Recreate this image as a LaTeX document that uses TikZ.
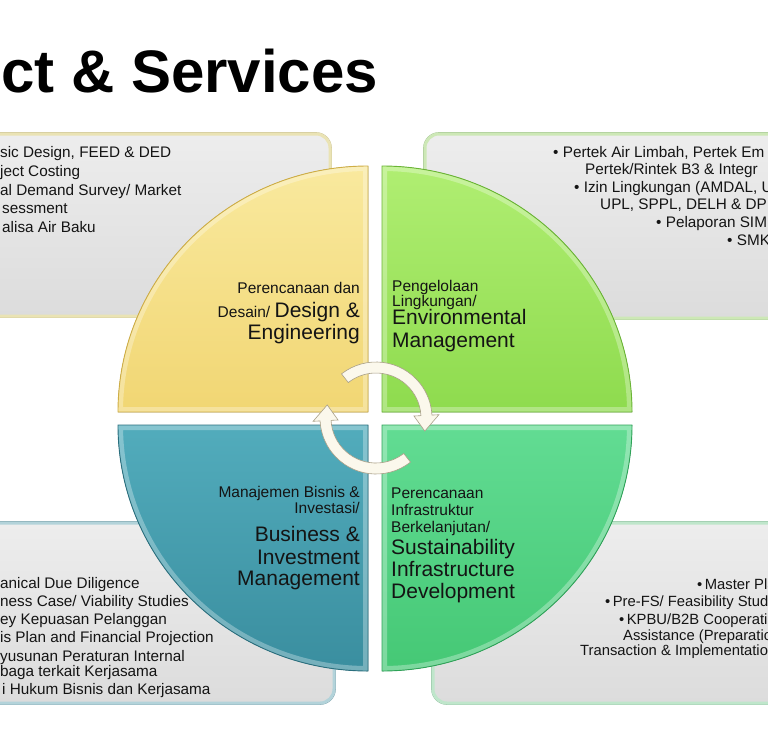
\documentclass[tikz,border=0pt]{standalone}
\usepackage{fontspec}
\setmainfont{Liberation Sans}
\definecolor{txt}{HTML}{141414}
\definecolor{boxtop}{HTML}{EDEDED}
\definecolor{boxbot}{HTML}{DCDCDC}
\definecolor{tlb}{HTML}{EAE3B4}
\definecolor{tlo}{HTML}{CFC79A}
\definecolor{trb}{HTML}{CDE8B6}
\definecolor{tro}{HTML}{A9C998}
\definecolor{blb}{HTML}{B3D3DA}
\definecolor{blo}{HTML}{86AAB3}
\definecolor{brb}{HTML}{BFE6CB}
\definecolor{bro}{HTML}{98C5A6}
\definecolor{yelA}{HTML}{F9E99E}
\definecolor{yelB}{HTML}{F1D673}
\definecolor{yelE}{HTML}{CFAE45}
\definecolor{limA}{HTML}{B0EE72}
\definecolor{limB}{HTML}{8EDB4E}
\definecolor{limE}{HTML}{6AB534}
\definecolor{tealA}{HTML}{52ACBC}
\definecolor{tealB}{HTML}{3A8E9F}
\definecolor{tealE}{HTML}{2A6F7E}
\definecolor{grnA}{HTML}{62DC93}
\definecolor{grnB}{HTML}{45C875}
\definecolor{grnE}{HTML}{2EA358}
\definecolor{creamA}{HTML}{FBF8EC}
\definecolor{creamE}{HTML}{A9A088}
\newcommand\bxfont{\fontsize{15.3}{18}\selectfont}
\newcommand\brfont{\fontsize{14.8}{18}\selectfont}
\newcommand\qsmall{\fontsize{15.5}{18}\selectfont}
\newcommand\qbig{\fontsize{21}{24}\selectfont}
\tikzset{
  gbox/.style={rounded corners=14pt, line width=3pt, top color=boxtop, bottom color=boxbot},
  boxedge/.style={rounded corners=15.5pt, line width=0.7pt},
  bxt/.style={inner sep=0pt, font=\bxfont, text=txt},
  brt/.style={inner sep=0pt, font=\brfont, text=txt},
  ql/.style={inner sep=0pt, font=\qsmall, text=txt},
  qb/.style={inner sep=0pt, font=\qbig, text=txt},
  rim/.style={line width=10pt, white, opacity=0.3},
  cyc/.style={fill=creamA, draw=creamE, line width=0.6pt},
}
\begin{document}
\begin{tikzpicture}[x=1pt,y=1pt]
\useasboundingbox (0,0) rectangle (768,-750);
\clip (0,0) rectangle (768,-750);
\fill[white] (0,0) rectangle (768,-750);

% title
\node[anchor=base west, inner sep=0pt, font=\fontsize{60}{60}\selectfont\bfseries, text=black] (title) at (1,-92) {ct \& Services};

% grey boxes
\draw[boxedge, draw=tlo] (-31.5,-132.5) rectangle (331.5,-317.5);
\draw[gbox, draw=tlb] (-30,-134) rectangle (330,-316);
\draw[boxedge, draw=tro] (423.5,-132.5) rectangle (800,-319.5);
\draw[gbox, draw=trb] (425,-134) rectangle (800,-318);
\draw[boxedge, draw=blo] (-31.5,-521.5) rectangle (335.5,-704.5);
\draw[gbox, draw=blb] (-30,-523) rectangle (334,-703);
\draw[boxedge, draw=bro] (431.5,-521.5) rectangle (800,-704.5);
\draw[gbox, draw=brb] (433,-523) rectangle (800,-703);

% box texts
\node[bxt, anchor=base west] (tl1) at (0,-157) {sic Design, FEED \& DED};
\node[bxt, anchor=base west] (tl2) at (0,-176) {ject Costing};
\node[bxt, anchor=base west] (tl3) at (0,-195) {al Demand Survey/ Market};
\node[bxt, anchor=base west] (tl4) at (2,-213) {sessment};
\node[bxt, anchor=base west] (tl5) at (2,-232) {alisa Air Baku};

\node[bxt, anchor=base west] (tr1) at (553,-157) {• Pertek Air Limbah, Pertek Em};
\node[bxt, anchor=base west] (tr2) at (585,-174) {Pertek/Rintek B3 \& Integr};
\node[bxt, anchor=base west] (tr3) at (574,-192) {• Izin Lingkungan (AMDAL, U};
\node[bxt, anchor=base west] (tr4) at (600,-209) {UPL, SPPL, DELH \& DPL};
\node[bxt, anchor=base west] (tr5) at (656,-227) {• Pelaporan SIMP};
\node[bxt, anchor=base west] (tr6) at (727,-245) {• SMK};

\node[bxt, anchor=base west] (bl1) at (0,-588) {anical Due Diligence};
\node[bxt, anchor=base west] (bl2) at (0,-606) {ness Case/ Viability Studies};
\node[bxt, anchor=base west] (bl3) at (0,-624) {ey Kepuasan Pelanggan};
\node[bxt, anchor=base west] (bl4) at (0,-642) {is Plan and Financial Projection};
\node[bxt, anchor=base west] (bl5) at (0,-661) {yusunan Peraturan Internal};
\node[bxt, anchor=base west] (bl6) at (0,-676) {baga terkait Kerjasama};
\node[bxt, anchor=base west] (bl7) at (2,-694) {i Hukum Bisnis dan Kerjasama};

\node[brt, anchor=base west] (br1) at (697,-589) {•\,Master Pla};
\node[brt, anchor=base west] (br2) at (605,-606) {•\,Pre-FS/ Feasibility Studi};
\node[brt, anchor=base west] (br3) at (619,-624) {•\,KPBU/B2B Cooperatio};
\node[brt, anchor=base west] (br4) at (623,-640) {Assistance (Preparatio};
\node[brt, anchor=base west] (br5) at (580,-655) {Transaction \& Implementatio};

% quadrants
\foreach \cx/\cy/\sa/\ea/\ca/\cb/\ce in {368/-412/180/90/yelA/yelB/yelE, 382/-412/90/0/limA/limB/limE, 368/-425/270/180/tealA/tealB/tealE, 382/-425/0/-90/grnA/grnB/grnE}{
  \fill[top color=\ca, bottom color=\cb] (\cx,\cy) -- ++(\sa:250pt and 246pt) arc[start angle=\sa, end angle=\ea, x radius=250pt, y radius=246pt] -- cycle;
  \begin{scope}
    \clip (\cx,\cy) -- ++(\sa:250pt and 246pt) arc[start angle=\sa, end angle=\ea, x radius=250pt, y radius=246pt] -- cycle;
    \draw[rim] (\cx,\cy) -- ++(\sa:250pt and 246pt) arc[start angle=\sa, end angle=\ea, x radius=250pt, y radius=246pt] -- cycle;
  \end{scope}
  \draw[draw=\ce, line width=0.9pt] (\cx,\cy) -- ++(\sa:250pt and 246pt) arc[start angle=\sa, end angle=\ea, x radius=250pt, y radius=246pt] -- cycle;
}

% quadrant labels
\node[ql, anchor=base east] (y1) at (360,-293) {Perencanaan dan};
\node[inner sep=0pt, text=txt, anchor=base east] (y2) at (360,-317) {\qsmall Desain/ \qbig Design \&};
\node[qb, anchor=base east] (y3) at (360,-339) {Engineering};

\node[ql, anchor=base west] (g1) at (392,-291) {Pengelolaan};
\node[ql, anchor=base west] (g2) at (392,-306) {Lingkungan/};
\node[qb, anchor=base west] (g3) at (392,-324.5) {Environmental};
\node[qb, anchor=base west] (g4) at (392,-347) {Management};

\node[ql, anchor=base east] (t1) at (360,-497) {Manajemen Bisnis \&};
\node[ql, anchor=base east] (t2) at (360,-513) {Investasi/};
\node[qb, anchor=base east] (t3) at (360,-541.5) {Business \&};
\node[qb, anchor=base east] (t4) at (360,-564) {Investment};
\node[qb, anchor=base east] (t5) at (360,-585.5) {Management};

\node[ql, anchor=base west] (s1) at (391,-498) {Perencanaan};
\node[ql, anchor=base west] (s2) at (391,-515) {Infrastruktur};
\node[ql, anchor=base west] (s3) at (391,-532) {Berkelanjutan/};
\node[qb, anchor=base west] (s4) at (391,-554) {Sustainability};
\node[qb, anchor=base west] (s5) at (391,-576) {Infrastructure};
\node[qb, anchor=base west] (s6) at (391,-598) {Development};

% cycle arrows
\coordinate (cc) at (376,-418);
\begin{scope}[shift={(cc)}]
\filldraw[cyc] (128:56pt) arc[start angle=128,end angle=3,radius=56pt] -- (3:63pt) -- (-15:50.5pt) -- (3:38pt) -- (3:45pt) arc[start angle=3,end angle=128,radius=45pt] -- cycle;
\filldraw[cyc] (-52:56pt) arc[start angle=-52,end angle=-177,radius=56pt] -- (-177:63pt) -- (-195:50.5pt) -- (-177:38pt) -- (-177:45pt) arc[start angle=-177,end angle=-52,radius=45pt] -- cycle;
\end{scope}
\end{tikzpicture}
\end{document}
